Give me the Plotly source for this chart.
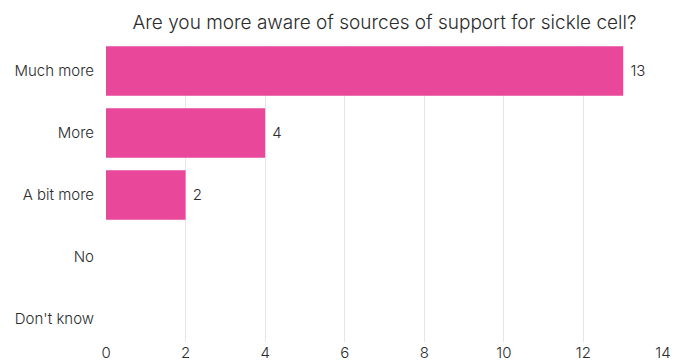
import plotly.graph_objects as go

categories = ["Much more", "More", "A bit more", "No", "Don't know"]
counts = [13, 4, 2, 0, 0]
x_ticks = [0, 2, 4, 6, 8, 10, 12, 14]

TITLE = "Are you more aware of sources of support for sickle cell?"
BAR_COLOR = "#E8479A"
TEXT_COLOR = "#2b2b2b"
FONT = "Inter"

W, H = 686, 363
M_L, M_R, M_T, M_B = 106, 23, 46, 21

fig = go.Figure(
    go.Bar(
        y=categories,
        x=counts,
        orientation="h",
        width=0.8,
        marker=dict(color=BAR_COLOR, line=dict(width=0)),
        # value labels sit just past the bar end; empty categories get none
        text=[f" {v}" if v else "" for v in counts],
        textposition="outside",
        textfont=dict(family=FONT, size=15, color=TEXT_COLOR, weight=300),
        cliponaxis=False,
        hoverinfo="skip",
    )
)

fig.update_layout(
    width=W,
    height=H,
    margin=dict(l=M_L, r=M_R, t=M_T, b=M_B, pad=0),
    paper_bgcolor="white",
    plot_bgcolor="white",
    showlegend=False,
    font=dict(family=FONT, color=TEXT_COLOR),
    title=dict(
        text=TITLE,
        x=0.5,
        xref="paper",
        xanchor="center",
        y=1 - 22 / H,
        yref="container",
        yanchor="middle",
        font=dict(family=FONT, size=19, color=TEXT_COLOR, weight=300),
    ),
    xaxis=dict(
        range=[0, 14],
        tickvals=x_ticks,
        ticktext=[str(t) for t in x_ticks],
        showgrid=True,
        gridcolor="#e6e6e6",
        gridwidth=1,
        zeroline=False,
        showline=False,
        ticks="",
        automargin=False,
        tickfont=dict(family=FONT, size=15, color=TEXT_COLOR, weight=300),
        fixedrange=True,
    ),
    yaxis=dict(
        categoryorder="array",
        categoryarray=categories,
        range=[4.371, -0.403],
        showgrid=False,
        zeroline=False,
        showline=False,
        ticks="outside",
        ticklen=8,
        tickcolor="rgba(0,0,0,0)",
        automargin=False,
        tickfont=dict(family=FONT, size=15, color=TEXT_COLOR, weight=300),
        fixedrange=True,
    ),
)

fig.write_html("out.html")
